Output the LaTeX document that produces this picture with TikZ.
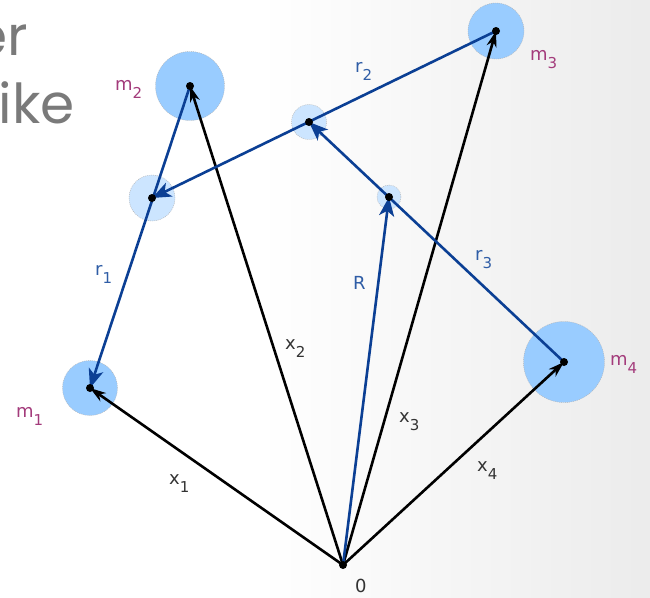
\documentclass[tikz,border=0pt]{standalone}
\usepackage{fontspec}
\setmainfont{DejaVu Sans}
\newfontfamily\slidefont{Poppins}
\usetikzlibrary{arrows.meta}
\definecolor{vecBlue}{HTML}{0B3F94}
\definecolor{lblBlue}{HTML}{2F5DA6}
\definecolor{massPink}{HTML}{A33B7B}
\definecolor{massFill}{HTML}{99CCFF}
\definecolor{comFill}{HTML}{CCE5FF}
\definecolor{slideGray}{HTML}{7A7A7A}
\definecolor{lblDark}{HTML}{333333}
\pgfdeclarehorizontalshading{slidebg}{100bp}{color(0bp)=(white); color(45bp)=(white); color(100bp)=(black!14)}
\newcommand{\sbs}[2]{#1\raisebox{-8pt}{\fontsize{15}{15}\selectfont #2}}

\tikzset{
  mass/.style={circle, fill=massFill, draw=black!30, line width=0.4pt,
    dash pattern=on 1pt off 1pt, inner sep=0pt},
  com/.style={mass, fill=comFill},
  posvec/.style={-{Stealth[length=16pt, width=10pt, inset=5pt]}, line width=2.6pt},
  relvec/.style={vecBlue, -{Stealth[length=19pt, width=15pt, inset=5pt]}, line width=2.6pt},
  dot/.style={circle, fill=black, inner sep=0pt, minimum size=8pt},
  lbl/.style={anchor=base west, inner sep=0pt, font=\fontsize{18}{18}\selectfont},
  mlbl/.style={lbl, text=massPink},
  rlbl/.style={lbl, text=lblBlue},
  xlbl/.style={lbl, text=lblDark},
  slide/.style={anchor=base east, inner sep=0pt, text=slideGray,
    font=\slidefont\fontsize{55}{55}\selectfont}
}

\begin{document}
\begin{tikzpicture}[x=1pt, y=-1pt]
  % fond
  \shade[shading=slidebg] (0,0) rectangle (650,597);
  \useasboundingbox (0,0) rectangle (650,597);
  \node[slide] (slideA) at (28,55) {er};
  \node[slide] (slideB) at (75,123) {ike};

  % points
  \coordinate (O) at (343,565);
  \coordinate (m1) at (90,388);
  \coordinate (m2) at (190,86);
  \coordinate (m3) at (496,31);
  \coordinate (m4) at (564,362);
  \coordinate (c12) at (152,198);
  \coordinate (c123) at (309,122);
  \coordinate (cR) at (389,197);

  % masses et centres
  \node[mass, minimum size=55pt] (b1) at (m1) {};
  \node[mass, minimum size=69pt] (b2) at (m2) {};
  \node[mass, minimum size=56pt] (b3) at (m3) {};
  \node[mass, minimum size=81pt] (b4) at (m4) {};
  \node[com, minimum size=46pt] (b12) at (c12) {};
  \node[com, minimum size=35pt] (b123) at (c123) {};
  \node[com, minimum size=24pt] (bR) at (cR) {};

  % vecteurs position
  \draw[posvec] (O) -- (m1);
  \draw[posvec] (O) -- (m2);
  \draw[posvec] (O) -- (m3);
  \draw[posvec] (O) -- (m4);

  % vecteurs relatifs
  \draw[relvec] (O) -- (cR);
  \draw[relvec] (m2) -- (m1);
  \draw[relvec] (m3) -- (c12);
  \draw[relvec] (m4) -- (c123);

  % points noirs
  \foreach \p in {O,m1,m2,m3,m4,c12,c123,cR}
    \node[dot] (d\p) at (\p) {};

  % etiquettes
  \node[mlbl] (lm1) at (16,417) {\sbs{m}{1}};
  \node[mlbl] (lm2) at (115,90) {\sbs{m}{2}};
  \node[mlbl] (lm3) at (530,60) {\sbs{m}{3}};
  \node[mlbl] (lm4) at (610,365) {\sbs{m}{4}};
  \node[rlbl] (lr1) at (95,275) {\sbs{r}{1}};
  \node[rlbl] (lr2) at (355,72) {\sbs{r}{2}};
  \node[rlbl] (lr3) at (475,260) {\sbs{r}{3}};
  \node[rlbl] (lR) at (353,289) {R};
  \node[xlbl] (lx1) at (169,484) {\sbs{x}{1}};
  \node[xlbl] (lx2) at (285,349) {\sbs{x}{2}};
  \node[xlbl] (lx3) at (399,422) {\sbs{x}{3}};
  \node[xlbl] (lx4) at (477,471) {\sbs{x}{4}};
  \node[xlbl] (lO) at (355,592) {0};
\end{tikzpicture}
\end{document}
